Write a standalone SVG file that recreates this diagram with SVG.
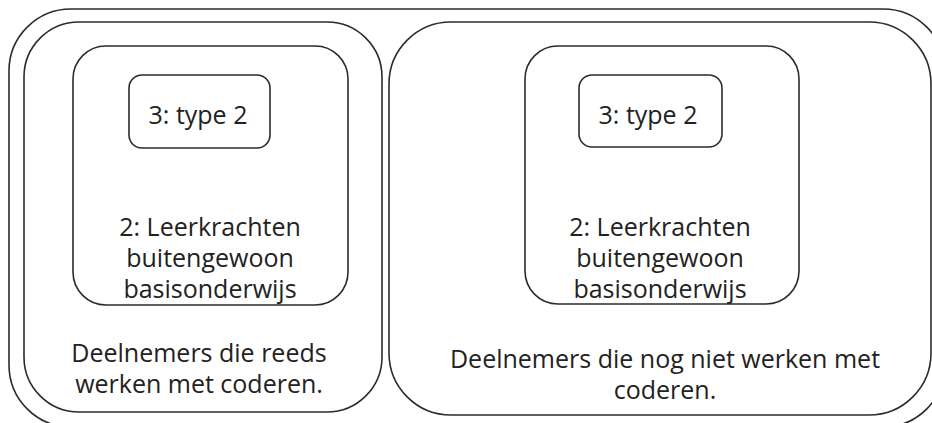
<svg xmlns="http://www.w3.org/2000/svg" width="932" height="423" viewBox="0 0 932 423">
<style>
.box{fill:none;stroke:#2b2b2b;stroke-width:1.6}
.t{font-family:"Open Sans","Liberation Sans",sans-serif;font-size:25px;fill:#222;text-anchor:middle}
</style>
<rect width="932" height="423" fill="#fff"/>
<g id="outer">
<rect class="box" x="9" y="9" width="936" height="418" rx="62" ry="62"/>
</g>
<g id="left-group">
<rect class="box" x="24" y="22" width="358" height="390" rx="55" ry="55"/>
<text class="t" x="199" y="362">Deelnemers die reeds</text>
<text class="t" x="199" y="393">werken met coderen.</text>
</g>
<g id="left-node2">
<rect class="box" x="73" y="46" width="275" height="259" rx="33" ry="33"/>
<text class="t" x="210" y="236">2: Leerkrachten</text>
<text class="t" x="210" y="267">buitengewoon</text>
<text class="t" x="210" y="298">basisonderwijs</text>
</g>
<g id="left-node3">
<rect class="box" x="129" y="75" width="141" height="73" rx="13" ry="13"/>
<text class="t" x="198" y="124">3: type 2</text>
</g>
<g id="right-group">
<rect class="box" x="389" y="22" width="542" height="393" rx="62" ry="62"/>
<text class="t" x="665" y="368">Deelnemers die nog niet werken met</text>
<text class="t" x="665" y="399">coderen.</text>
</g>
<g id="right-node2">
<rect class="box" x="525" y="46" width="274" height="258" rx="33" ry="33"/>
<text class="t" x="660" y="236">2: Leerkrachten</text>
<text class="t" x="660" y="267">buitengewoon</text>
<text class="t" x="660" y="298">basisonderwijs</text>
</g>
<g id="right-node3">
<rect class="box" x="579" y="75" width="143" height="72" rx="13" ry="13"/>
<text class="t" x="648" y="124">3: type 2</text>
</g>
<g id="connectors"></g>
</svg>
